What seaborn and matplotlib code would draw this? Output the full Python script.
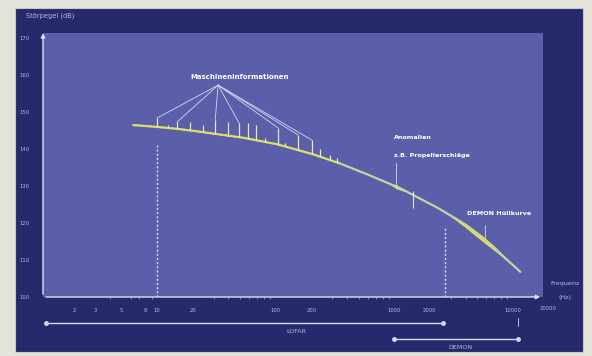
import matplotlib
matplotlib.use("Agg")
import matplotlib.pyplot as plt
from matplotlib.patches import Rectangle
import numpy as np
import seaborn as sns

# baseline noise spectrum (Hz, dB)
freq = [6.3, 10, 15.6, 23, 55, 103, 207, 350, 590, 1125, 2300, 3600, 6500, 11600]
level = [146.5, 146.0, 145.4, 144.7, 143.0, 141.3, 138.6, 136.1, 133.2, 129.4, 124.2, 120.5, 114.1, 106.8]

# machine lines (tonals): frequency and peak level
spike_freq = [10, 12.4, 14.7, 19.0, 24.4, 30.9, 39.7, 49.2, 58.6, 68.5, 81.5, 105, 120, 155, 203, 237, 288, 330]
spike_top = [148.4, 146.5, 147.3, 147.3, 146.5, 147.8, 147.3, 147.0, 147.0, 146.5, 143.0, 145.7, 141.6, 143.8, 142.4, 140.0, 138.4, 137.6]
fan_targets = [10, 14.7, 30.9, 49.2, 105, 155, 203]

# DEMON envelope band and anomaly (Hz, half width dB)
demon_freq = [2970, 4000, 5500, 7000, 9160]
demon_width = [0.2, 0.6, 0.75, 0.6, 0.2]
anom_freq = [925, 1050, 1240]
anom_width = [0.2, 0.55, 0.2]

yticks = [100, 110, 120, 130, 140, 150, 160, 170]
xticks = [2, 3, 5, 8, 10, 20, 100, 200, 1000, 2000, 10000]
xtick_labels = ["2", "3", "5", "8", "10", "20", "100", "200", "1000", "2000", "10000"]

sns.set_theme(style="white")
plt.rcParams['font.family'] = ['DejaVu Sans']

W, H = 592, 356
fig = plt.figure(figsize=(W / 100, H / 100), dpi=100)
fig.patch.set_facecolor("#e4e4dc")
fig.patches.append(Rectangle((15 / W, (H - 352) / H), 568 / W, 344 / H, zorder=-5,
                             transform=fig.transFigure, facecolor="#262a6c", edgecolor="#c8c8c0", lw=0.8))

ax = fig.add_axes([43 / W, (H - 297) / H, (543 - 43) / W, 264 / H])
ax.set_facecolor("#5b5fa9")
ax.set_xscale("log")
ax.set_xlim(1.09, 18000)
ax.set_ylim(100, 171.4)
for s in ax.spines.values():
    s.set_visible(False)

pale = "#b4b8e4"
lf = np.log10(freq)

# curve
sns.lineplot(x=freq, y=level, ax=ax, color="#c8d0a8", lw=1.6, sort=False)
n_first = 8
sns.lineplot(x=freq[:n_first], y=level[:n_first], ax=ax, color="#dfe34c", lw=1.1, sort=False)

# tonals
base = np.interp(np.log10(spike_freq), lf, level)
ax.vlines(spike_freq, base, spike_top, color="#e6e6d4", lw=0.9)

# anomaly and DEMON thick parts
for fr, wd in [(anom_freq, anom_width), (demon_freq, demon_width)]:
    b = np.interp(np.log10(fr), lf, level)
    ax.fill_between(fr, b - np.array(wd), b + np.array(wd), color="#f2f23c", lw=0)
ab = np.interp(np.log10(1440), lf, level)
ax.vlines([1440], ab - 3.5, ab + 1.0, color="#e6e6d4", lw=0.8)

# annotation: machine lines fan
apex_f, apex_l = 32.7, 157.3
for t in fan_targets:
    ax.plot([apex_f, t], [apex_l, spike_top[spike_freq.index(t)]], color="#d4d8f4", lw=0.6)
ax.text(50, 159.5, "Maschineninformationen", color="white", fontsize=5, fontweight="bold",
        ha="center", va="center")

# anomaly annotation
ax.plot([1040, 1040], [136.2, 129.6], color="#d4d8f4", lw=0.6)
ax.text(1000, 143.2, "Anomalien", color="white", fontsize=4.6, fontweight="bold", va="center")
ax.text(1000, 138.4, "z.B. Propellerschläge", color="white", fontsize=4.6, fontweight="bold", va="center")

# DEMON annotation
ax.plot([5860, 5860], [119.5, 116.0], color="#d4d8f4", lw=0.6)
ax.text(4100, 122.7, "DEMON Hüllkurve", color="white", fontsize=4.6, fontweight="bold", va="center")

# dotted verticals
ax.vlines([10], 100, 141.1, color="#d8dcf4", lw=1.0, linestyles=(0, (1.5, 1.5)))
ax.vlines([2700], 100, 118.6, color="#d8dcf4", lw=1.0, linestyles=(0, (1.5, 1.5)))

# axes lines with arrows
ax.annotate("", xy=(1.0, 0), xytext=(0, 0), xycoords="axes fraction",
            arrowprops=dict(arrowstyle="-|>", color="#dde0f8", lw=1.0, mutation_scale=6),
            annotation_clip=False)
ax.annotate("", xy=(0, 1.01), xytext=(0, 0), xycoords="axes fraction",
            arrowprops=dict(arrowstyle="-|>", color="#dde0f8", lw=1.0, mutation_scale=6),
            annotation_clip=False)

# ticks
ax.set_yticks(yticks)
ax.set_yticklabels([str(v) for v in yticks])
ax.set_xticks(xticks)
ax.set_xticklabels(xtick_labels)
ax.tick_params(axis="both", colors=pale, labelsize=3.8, length=2, width=0.6, direction="out", pad=6)
ax.tick_params(axis="x", which="minor", colors=pale, length=1.5, width=0.5, bottom=True)
ax.tick_params(axis="y", pad=8)
ax.text(20000, -0.045, "20000", transform=ax.get_xaxis_transform(), color=pale, fontsize=3.8,
        ha="center", va="center", clip_on=False)

# range bars
tr = ax.get_xaxis_transform()
bar = "#d4d8f4"
ax.plot([1.16, 2590], [-0.098, -0.098], transform=tr, color=bar, lw=1.0, clip_on=False)
ax.plot([1.16, 2590], [-0.098, -0.098], transform=tr, color=bar, ls="none", marker="o", ms=2.5, clip_on=False)
ax.text(151, -0.13, "LOFAR", transform=tr, color=pale, fontsize=4.6, ha="center", va="center")
ax.plot([1000, 11000], [-0.159, -0.159], transform=tr, color=bar, lw=1.0, marker="o", ms=2.5, clip_on=False)
ax.text(3600, -0.193, "DEMON", transform=tr, color=pale, fontsize=4.6, ha="center", va="center")
ax.plot([11000, 11000], [-0.08, -0.11], transform=tr, color=bar, lw=0.6, clip_on=False)

# axis titles
fig.text(26 / W, 1 - 16 / H, "Störpegel (dB)", color=pale, fontsize=4.8, va="center")
fig.text(565 / W, 1 - 284 / H, "Frequenz", color=pale, fontsize=4.6, va="center", ha="center")
fig.text(565 / W, 1 - 297 / H, "(Hz)", color=pale, fontsize=4.6, va="center", ha="center")

fig.savefig("out.png", dpi=100, facecolor=fig.get_facecolor())
